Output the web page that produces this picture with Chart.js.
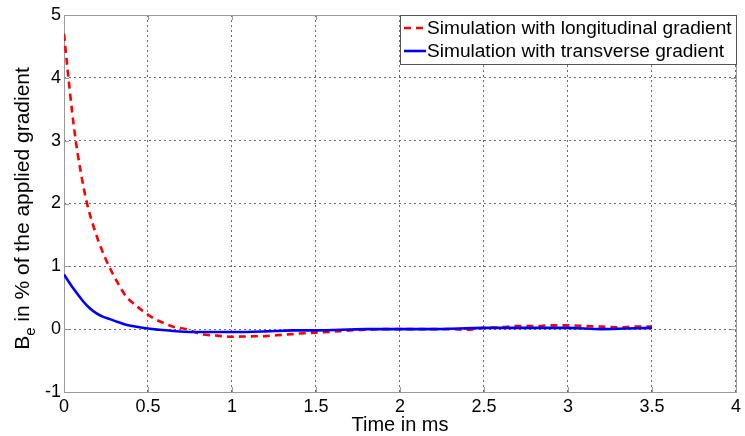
<!DOCTYPE html>
<html>
<head>
<meta charset="utf-8">
<script src="https://cdn.jsdelivr.net/npm/chart.js@4/dist/chart.umd.min.js"></script>
<style>
  html, body { margin: 0; padding: 0; background: #fff; }
  #wrap { width: 745px; height: 436px; position: relative; }
</style>
</head>
<body>
<div id="wrap"><canvas id="c" width="745" height="436"></canvas></div>
<script>
// Time axis in ms and relative eddy-field amplitude (% of applied gradient)
const timeLong = [0, 0.02, 0.05, 0.07, 0.08, 0.1, 0.115, 0.137, 0.174, 0.224, 0.27, 0.332, 0.37, 0.4, 0.45, 0.5, 0.55, 0.6, 0.65, 0.73, 0.81, 0.9, 1.0, 1.1, 1.2, 1.3, 1.4, 1.5, 1.6, 1.7, 1.8, 1.9, 2.0, 2.1, 2.2, 2.3, 2.4, 2.5, 2.6, 2.7, 2.8, 2.9, 3.0, 3.1, 3.2, 3.3, 3.4, 3.5];
const valueLong = [4.7, 4.17, 3.42, 3.0, 2.82, 2.5, 2.28, 2.0, 1.65, 1.27, 0.99, 0.68, 0.52, 0.44, 0.33, 0.23, 0.15, 0.09, 0.04, 0.0, -0.075, -0.1, -0.12, -0.115, -0.11, -0.09, -0.07, -0.055, -0.04, -0.02, -0.01, 0.0, 0.0, 0.0, 0.0, 0.0, -0.01, 0.02, 0.03, 0.05, 0.05, 0.06, 0.06, 0.05, 0.04, 0.03, 0.04, 0.04];

const timeTrans = [0, 0.055, 0.115, 0.15, 0.194, 0.23, 0.273, 0.32, 0.37, 0.45, 0.5, 0.57, 0.65, 0.77, 1.0, 1.2, 1.36, 1.5, 1.8, 2.0, 2.2, 2.5, 2.8, 3.0, 3.2, 3.35, 3.5];
const valueTrans = [0.87, 0.65, 0.44, 0.34, 0.25, 0.2, 0.16, 0.115, 0.07, 0.03, 0.01, -0.01, -0.03, -0.045, -0.045, -0.035, -0.02, -0.02, 0.0, 0.0, 0.0, 0.02, 0.02, 0.02, 0.0, 0.01, 0.02];

const seriesLabels = ['Simulation with longitudinal gradient', 'Simulation with transverse gradient'];
const xTicks = [0, 0.5, 1, 1.5, 2, 2.5, 3, 3.5, 4];
const yTicks = [-1, 0, 1, 2, 3, 4, 5];
const xTitle = 'Time in ms';
const yTitleMain = 'B';
const yTitleSub = 'e';
const yTitleRest = ' in % of the applied gradient';

const FONT = '"Liberation Sans", Arial, Helvetica, sans-serif';
const BOX = '#9a9a9a';
const GRID = '#6a6a6a';

const toPoints = (xs, ys) => xs.map((x, i) => ({ x: x, y: ys[i] }));

// Axes frame, inward tick marks, titles and the boxed legend
const decor = {
  id: 'decor',
  beforeDatasetsDraw(chart) {
    const { ctx, chartArea: a, scales } = chart;
    ctx.save();
    ctx.strokeStyle = BOX;
    ctx.lineWidth = 1;
    ctx.setLineDash([]);
    ctx.strokeRect(Math.round(a.left) + 0.5, Math.round(a.top) + 0.5,
                   Math.round(a.right - a.left), Math.round(a.bottom - a.top));
    const tl = 5;
    ctx.beginPath();
    xTicks.forEach(v => {
      const px = Math.round(scales.x.getPixelForValue(v)) + 0.5;
      ctx.moveTo(px, a.bottom); ctx.lineTo(px, a.bottom - tl);
      ctx.moveTo(px, a.top); ctx.lineTo(px, a.top + tl);
    });
    yTicks.forEach(v => {
      const py = Math.round(scales.y.getPixelForValue(v)) + 0.5;
      ctx.moveTo(a.left, py); ctx.lineTo(a.left + tl, py);
      ctx.moveTo(a.right, py); ctx.lineTo(a.right - tl, py);
    });
    ctx.stroke();
    ctx.restore();
  },
  afterDraw(chart) {
    const { ctx, chartArea: a } = chart;
    ctx.save();
    ctx.fillStyle = '#000';

    // x-axis title
    ctx.font = '20px ' + FONT;
    ctx.textAlign = 'center';
    ctx.textBaseline = 'alphabetic';
    ctx.fillText(xTitle, (a.left + a.right) / 2, 431);

    // y-axis title with subscript
    const mainFont = '21px ' + FONT;
    const subFont = '15px ' + FONT;
    ctx.font = mainFont;
    const wB = ctx.measureText(yTitleMain).width;
    const wRest = ctx.measureText(yTitleRest).width;
    ctx.font = subFont;
    const wSub = ctx.measureText(yTitleSub).width;
    const total = wB + wSub + wRest;
    ctx.translate(29, (a.top + a.bottom) / 2 + 5);
    ctx.rotate(-Math.PI / 2);
    ctx.textAlign = 'left';
    const x0 = -total / 2;
    ctx.font = mainFont;
    ctx.fillText(yTitleMain, x0, 0);
    ctx.font = subFont;
    ctx.fillText(yTitleSub, x0 + wB, 6);
    ctx.font = mainFont;
    ctx.fillText(yTitleRest, x0 + wB + wSub, 0);
    ctx.restore();

    // legend box
    ctx.save();
    const lx = 400.5, ly = Math.round(a.top) + 0.5, rx = Math.round(a.right) + 0.5, by = 64.5;
    ctx.fillStyle = '#fff';
    ctx.fillRect(lx, ly, rx - lx, by - ly);
    ctx.strokeStyle = '#555';
    ctx.lineWidth = 1;
    ctx.strokeRect(lx, ly, rx - lx, by - ly);
    const rows = [28, 51];
    chart.data.datasets.forEach((ds, i) => {
      const y = rows[i];
      ctx.strokeStyle = ds.borderColor;
      ctx.lineWidth = ds.borderWidth;
      ctx.setLineDash(ds.borderDash || []);
      ctx.beginPath();
      ctx.moveTo(404, y); ctx.lineTo(426, y);
      ctx.stroke();
      ctx.setLineDash([]);
      ctx.fillStyle = '#000';
      ctx.font = '19.1px ' + FONT;
      ctx.textAlign = 'left';
      ctx.textBaseline = 'middle';
      ctx.fillText(ds.label, 427, y + 1);
    });
    ctx.restore();
  }
};

new Chart(document.getElementById('c'), {
  type: 'scatter',
  data: {
    datasets: [
      {
        label: seriesLabels[0],
        data: toPoints(timeLong, valueLong),
        showLine: true,
        borderColor: '#ff0000',
        borderWidth: 2.6,
        borderDash: [7, 5],
        pointRadius: 0,
        cubicInterpolationMode: 'monotone',
        order: 1
      },
      {
        label: seriesLabels[1],
        data: toPoints(timeTrans, valueTrans),
        showLine: true,
        borderColor: '#0000ff',
        borderWidth: 2.6,
        pointRadius: 0,
        cubicInterpolationMode: 'monotone',
        order: 0
      }
    ]
  },
  options: {
    responsive: false,
    animation: false,
    devicePixelRatio: 1,
    layout: { padding: { left: 0, top: 15, right: 8, bottom: 0 } },
    plugins: { legend: { display: false }, tooltip: { enabled: false } },
    scales: {
      x: {
        type: 'linear',
        min: 0, max: 4,
        afterBuildTicks: s => { s.ticks = xTicks.map(v => ({ value: v })); },
        afterFit: s => { s.height = 44; },
        ticks: {
          font: { family: FONT, size: 18 },
          color: '#000',
          padding: 4,
          maxRotation: 0,
          callback: v => String(v)
        },
        grid: { color: GRID, drawTicks: false, lineWidth: 1 },
        border: { display: false, dash: [2, 3] }
      },
      y: {
        type: 'linear',
        min: -1, max: 5,
        afterBuildTicks: s => { s.ticks = yTicks.map(v => ({ value: v })); },
        afterFit: s => { s.width = 64; },
        ticks: {
          font: { family: FONT, size: 18 },
          color: '#000',
          padding: 3,
          callback: v => String(v)
        },
        grid: { color: GRID, drawTicks: false, lineWidth: 1 },
        border: { display: false, dash: [2, 3] }
      }
    }
  },
  plugins: [decor]
});
</script>
</body>
</html>
